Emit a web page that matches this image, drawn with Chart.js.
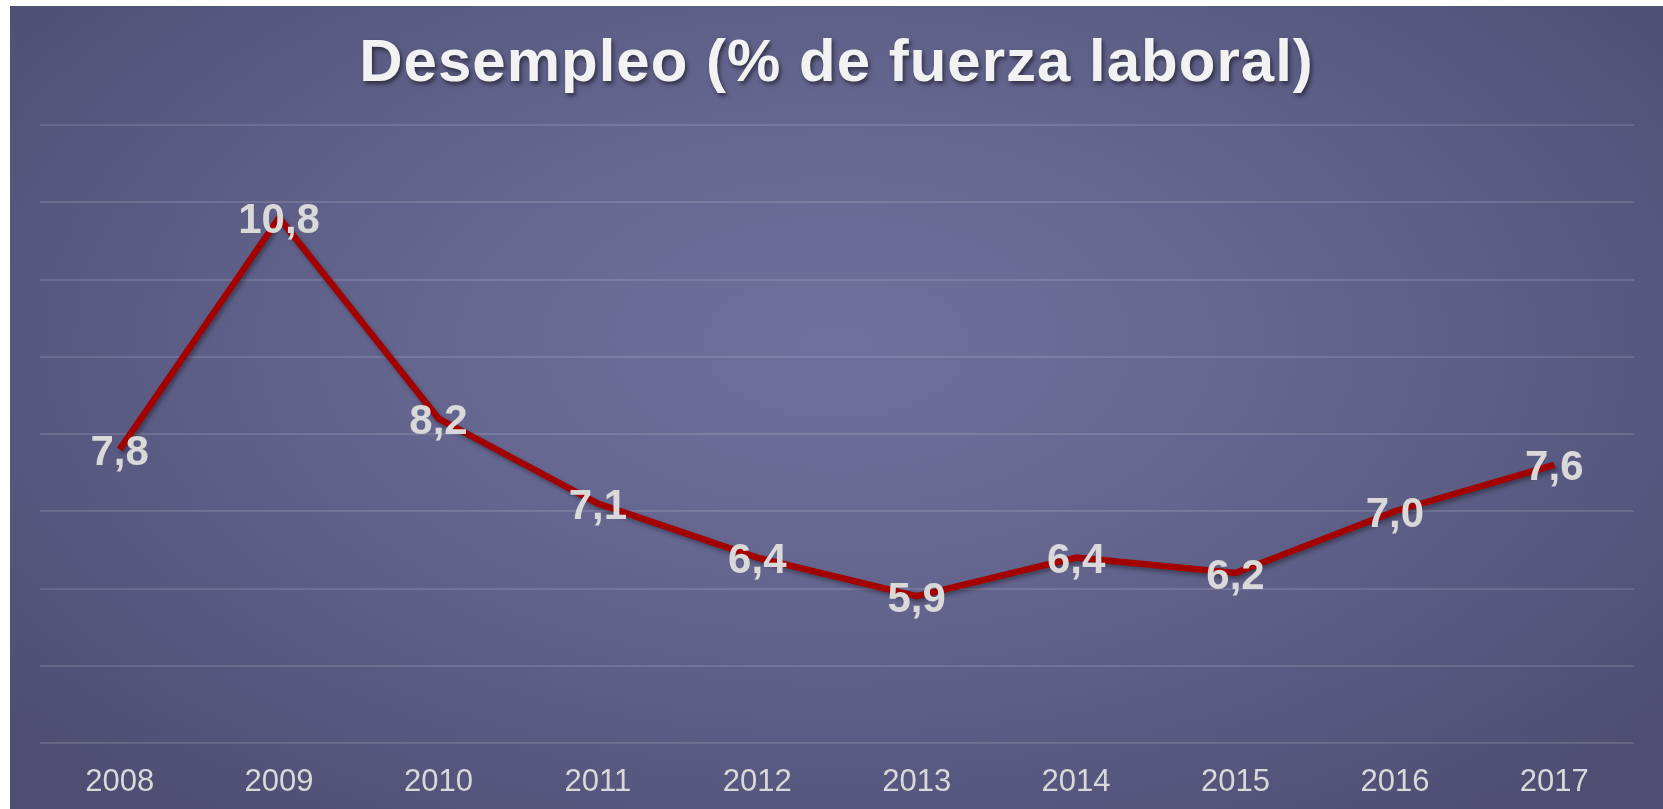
<!DOCTYPE html>
<html>
<head>
<meta charset="utf-8">
<script src="https://cdn.jsdelivr.net/npm/chart.js@4"></script>
<style>
  html, body { margin: 0; padding: 0; background: #fff; }
  #panel {
    position: absolute; left: 10px; top: 6px; width: 1653px; height: 803px;
    background: radial-gradient(ellipse 65% 75% at 50% 42%, #6f709d 0%, #65668f 40%, #57587f 75%, #4e4e73 100%);
  }
</style>
</head>
<body>
<div id="panel"><canvas id="chart"></canvas></div>
<script>
'use strict';

const years = ["2008", "2009", "2010", "2011", "2012", "2013", "2014", "2015", "2016", "2017"];
const unemployment = [7.8, 10.8, 8.2, 7.1, 6.4, 5.9, 6.4, 6.2, 7.0, 7.6];
const titleText = "Desempleo (% de fuerza laboral)";

const labelGrey = "#d9d9d9";
const lineRed = "#a30000";

// title drawn by hand so it can carry a shadow
const titlePlugin = {
    id: 'shadowTitle',
    afterDraw(chart){
        const ctx = chart.ctx;
        ctx.save();
        ctx.font = "bold 60px 'Liberation Sans', Arial, sans-serif";
        ctx.letterSpacing = "1px";
        ctx.fillStyle = "#f2f2f2";
        ctx.textAlign = "center";
        ctx.textBaseline = "alphabetic";
        ctx.shadowColor = "rgba(0,0,0,0.5)";
        ctx.shadowBlur = 4;
        ctx.shadowOffsetX = 2;
        ctx.shadowOffsetY = 3;
        ctx.fillText(titleText, chart.width / 2, 75);
        ctx.restore();
    }
};

// shadow under the line
const lineShadow = {
    id: 'lineShadow',
    beforeDatasetsDraw(chart){
        const ctx = chart.ctx;
        ctx.save();
        ctx.shadowColor = "rgba(0,0,0,0.35)";
        ctx.shadowBlur = 4;
        ctx.shadowOffsetX = 2;
        ctx.shadowOffsetY = 3;
    },
    afterDatasetsDraw(chart){
        chart.ctx.restore();
    }
};

// value labels on the points, comma decimals
const valueLabels = {
    id: 'valueLabels',
    afterDatasetsDraw(chart){
        const ctx = chart.ctx;
        const meta = chart.getDatasetMeta(0);
        ctx.save();
        ctx.font = "bold 42px 'Liberation Sans', Arial, sans-serif";
        ctx.fillStyle = labelGrey;
        ctx.textAlign = "center";
        ctx.textBaseline = "middle";
        meta.data.forEach((p, i) => {
            const txt = unemployment[i].toFixed(1).replace('.', ',');
            ctx.fillText(txt, p.x, p.y + 4);
        });
        ctx.restore();
    }
};

const ctx = document.getElementById('chart').getContext('2d');
new Chart(ctx, {
    type: 'line',
    data: {
        labels: years,
        datasets: [{
            data: unemployment,
            borderColor: lineRed,
            borderWidth: 6.5,
            pointRadius: 0,
            tension: 0,
            fill: false
        }]
    },
    options: {
        responsive: true,
        maintainAspectRatio: false,
        animation: false,
        layout: { padding: { top: 119, left: 30, right: 29, bottom: 0 } },
        plugins: {
            legend: { display: false },
            title: { display: false },
            tooltip: { enabled: false }
        },
        scales: {
            x: {
                offset: true,
                grid: { display: false, drawTicks: false },
                border: { display: false },
                afterFit(scale){ scale.height = 66; },
                ticks: {
                    color: labelGrey,
                    font: { family: "'Liberation Sans', Arial, sans-serif", size: 31 },
                    padding: 21,
                    autoSkip: false,
                    maxRotation: 0
                }
            },
            y: {
                min: 4,
                max: 12,
                grid: { color: "rgba(255,255,255,0.12)", lineWidth: 2, drawTicks: false },
                border: { display: false },
                ticks: { stepSize: 1, display: false }
            }
        }
    },
    plugins: [lineShadow, valueLabels, titlePlugin]
});
</script>
</body>
</html>
